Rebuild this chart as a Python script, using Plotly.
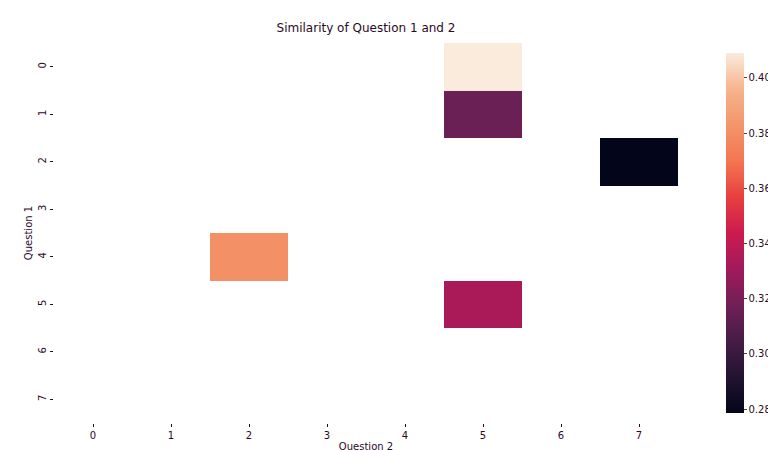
import numpy as np
import plotly.graph_objects as go

rows = [0, 1, 2, 3, 4, 5, 6, 7]
cols = [0, 1, 2, 3, 4, 5, 6, 7]
nan = np.nan
# similarity values (masked cells are NaN)
z = [
    [nan, nan, nan, nan, nan, 0.409, nan, nan],
    [nan, nan, nan, nan, nan, 0.316, nan, nan],
    [nan, nan, nan, nan, nan, nan, nan, 0.2786],
    [nan, nan, nan, nan, nan, nan, nan, nan],
    [nan, nan, 0.381, nan, nan, nan, nan, nan],
    [nan, nan, nan, nan, nan, 0.334, nan, nan],
    [nan, nan, nan, nan, nan, nan, nan, nan],
    [nan, nan, nan, nan, nan, nan, nan, nan],
]

rocket = [[0.0, '#03051A'], [0.1, '#221331'], [0.2, '#451C47'], [0.3, '#701F57'],
          [0.4, '#A11A5B'], [0.5, '#CB1B4F'], [0.6, '#E83F3F'], [0.7, '#F37651'],
          [0.8, '#F4956A'], [0.9, '#F6B48E'], [1.0, '#FAEBDD']]

txt = '#2a0a1f'
fig = go.Figure(go.Heatmap(
    z=z, x=cols, y=rows, colorscale=rocket, zmin=0.2786, zmax=0.409,
    hoverongaps=False,
    colorbar=dict(thickness=18, lenmode='pixels', len=380, x=1.061, xanchor='left',
                  y=0.5, outlinewidth=0, ticks='outside', ticklen=3,
                  tickvals=[0.28, 0.30, 0.32, 0.34, 0.36, 0.38, 0.40],
                  tickformat='.2f', tickfont=dict(size=10, color=txt)),
))

fig.update_layout(
    width=776, height=450,
    margin=dict(l=46, r=106, t=35, b=35, autoexpand=False),
    paper_bgcolor='white', plot_bgcolor='white',
    font=dict(family='DejaVu Sans', size=10, color=txt),
    title=dict(text='Similarity of Question 1 and 2', x=0.5, xref='paper',
               y=0.955, yanchor='middle', font=dict(size=12, color=txt)),
)
fig.update_xaxes(title=dict(text='Question 2', standoff=2, font=dict(size=10)),
                 tickvals=cols, ticks='outside', ticklen=3, tickcolor=txt,
                 showgrid=False, zeroline=False, range=[-0.5, 7.5])
fig.update_yaxes(title=dict(text='Question 1', standoff=2, font=dict(size=10)),
                 tickvals=rows, ticks='outside', ticklen=3, tickcolor=txt, tickangle=-90,
                 showgrid=False, zeroline=False, range=[7.5, -0.5])

fig.write_html("out.html")
